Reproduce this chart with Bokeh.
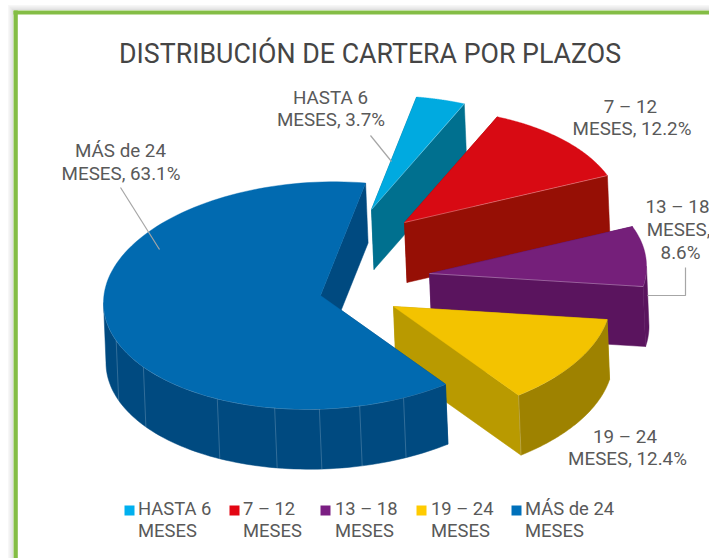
import numpy as np
from bokeh.plotting import figure
from bokeh.models import Range1d
from bokeh.core.properties import value
from bokeh.embed import file_html
from bokeh.resources import INLINE

# ---------- data ----------
title = "DISTRIBUCIÓN DE CARTERA POR PLAZOS"
categories = ["HASTA 6 MESES", "7 – 12 MESES", "13 – 18 MESES", "19 – 24 MESES", "MÁS de 24 MESES"]
shares = [3.7, 12.2, 8.6, 12.4, 63.1]
legend_line1 = ["HASTA 6", "7 – 12", "13 – 18", "19 – 24", "MÁS de 24"]
legend_line2 = ["MESES", "MESES", "MESES", "MESES", "MESES"]
label_lines = [["HASTA 6", "MESES, 3.7%"], ["7 – 12", "MESES, 12.2%"], ["13 – 18", "MESES,", "8.6%"],
               ["19 – 24", "MESES, 12.4%"], ["MÁS de 24", "MESES, 63.1%"]]

# ---------- style / layout ----------
top_colors = ["#00aae0", "#d80a13", "#751f7a", "#f3c300", "#016ab0"]
wall_colors = ["#00708f", "#960f05", "#5a145e", "#b99a00", "#004a80"]
arc_colors = ["#00708f", "#960f05", "#5a145e", "#9e8200", "#004a80"]
legend_colors = ["#00b0ef", "#e30613", "#7b1e83", "#ffcb00", "#0070ba"]
W, H = 709, 558
CX, CY, RX, RY = 343, 280, 217, 113.5
SHEAR = 0.033
DEPTH_X, DEPTH_Y = 2.5, 60
START_ANGLE = 78
explode = [(28, -71), (61, -58), (86, -7), (50, 26), (-23, 15)]
seam_angles = [[], [], [], [-54.8], [-160.3, -144.7, -118.4, -102.2, -90.3, -79.6, -67.5]]
label_x = [[330, 330.5], [630, 631.5], [677, 678, 680], [624.5, 627], [120, 120.5]]
label_y = [[97, 119], [106, 128], [206, 229, 252], [436, 458], [150, 173]]
legend_box_x = [124, 229, 320, 416, 511]
legend_text_x = [137.5, 242.5, 334.5, 430.5, 524.5]
FONT = value("Roboto")

p = figure(width=W, height=H, output_backend="svg", toolbar_location=None,
           x_range=Range1d(0, W), y_range=Range1d(H, 0),
           x_axis_type=None, y_axis_type=None, min_border=0, outline_line_color=None,
           background_fill_color="white", border_fill_color="white")
p.grid.visible = False

# page frame with soft shadow
for i, a in enumerate([0.03, 0.05, 0.07, 0.09, 0.12]):
    off = 5 - i
    p.line([13 - off, 13 - off], [558, 10 - off], line_color="#000000", line_alpha=a, line_width=1)
    p.line([13 - off, 720], [10 - off, 10 - off], line_color="#000000", line_alpha=a, line_width=1)
p.quad(left=[13], right=[17.3], top=[10], bottom=[560], fill_color="#84bd45", line_color=None)
p.quad(left=[13], right=[720], top=[10], bottom=[14], fill_color="#84bd45", line_color=None)


def ell(cx, cy, t0, t1, n=80):
    t = np.radians(np.linspace(t0, t1, n))
    dx = RX * np.cos(t)
    return cx + dx, cy - RY * np.sin(t) - SHEAR * dx


def pt(cx, cy, t):
    x, y = ell(cx, cy, t, t, 1)
    return float(x[0]), float(y[0])


def wall(ax, ay, bx, by, color):
    p.patch([ax, bx, bx + DEPTH_X, ax + DEPTH_X], [ay, by, by + DEPTH_Y, ay + DEPTH_Y],
            fill_color=color, line_color=color, line_width=0.5)


hi = dict(line_color="#ffffff", line_alpha=0.35, line_width=0.9)
cum = 0.0
for i, share in enumerate(shares):
    t0 = START_ANGLE - cum * 3.6
    t1 = t0 - share * 3.6
    cum += share
    ax, ay = CX + explode[i][0], CY + explode[i][1]
    x0, y0 = pt(ax, ay, t0)
    x1, y1 = pt(ax, ay, t1)
    # radial walls
    wall(ax, ay, x0, y0, wall_colors[i])
    wall(ax, ay, x1, y1, wall_colors[i])
    # outer curved wall: only the part below the horizontal axis shows
    lo = max(t1, -180)
    hi_t = min(t0, 0)
    if hi_t > lo:
        tx, ty = ell(ax, ay, hi_t, lo)
        p.patch(list(tx) + list(tx[::-1] + DEPTH_X), list(ty) + list(ty[::-1] + DEPTH_Y),
                fill_color=arc_colors[i], line_color=arc_colors[i], line_width=0.5)
        p.line(tx, ty, **hi)
    for s in seam_angles[i]:
        sx, sy = pt(ax, ay, s)
        p.line([sx, sx + DEPTH_X], [sy, sy + DEPTH_Y], line_color="#ffffff", line_alpha=0.22, line_width=0.9)
    # top face
    fx, fy = ell(ax, ay, t0, t1, 120)
    p.patch([ax] + list(fx), [ay] + list(fy), fill_color=top_colors[i], line_color=top_colors[i], line_width=0.4)
    if i < 3:
        p.line([ax, x1], [ay, y1], **hi)

# leader lines
leader = dict(line_color="#a6a6a6", line_width=1.2)
p.line([120, 159], [187, 249], **leader)
p.line([370, 391], [135, 161], **leader)
p.line([685, 685, 647], [267, 295, 295], **leader)

# title
p.text(x=[369.5], y=[53], text=[title], text_font=FONT, text_font_size="26.75px",
       text_color="#454545", text_align="center", text_baseline="middle")

# data labels
for i, lines in enumerate(label_lines):
    p.text(x=label_x[i], y=label_y[i], text=lines, text_font=FONT, text_font_size="18.8px",
           text_color="#595959", text_align="center", text_baseline="middle")

# legend
for i in range(len(categories)):
    p.quad(left=[legend_box_x[i]], right=[legend_box_x[i] + 10], top=[505], bottom=[515],
           fill_color=legend_colors[i], line_color=None)
    p.text(x=[legend_text_x[i]] * 2, y=[508, 530], text=[legend_line1[i], legend_line2[i]],
           text_font=FONT, text_font_size="18.4px", text_color="#595959",
           text_align="left", text_baseline="middle")

open("out.html", "w").write(file_html(p, INLINE))
